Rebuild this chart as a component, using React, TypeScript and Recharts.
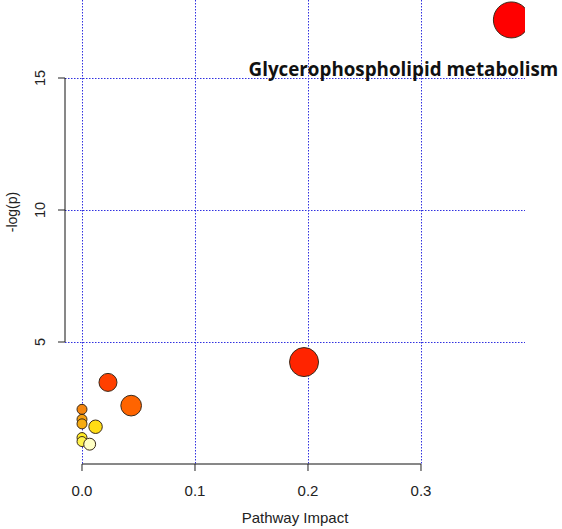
import {
  CartesianGrid,
  LabelList,
  ReferenceLine,
  Scatter,
  ScatterChart,
  XAxis,
  YAxis,
  ZAxis,
  Cell,
} from "recharts";

// pathway impact (x) and -log(p) (y)
const pathways = [
  "Glycerophospholipid metabolism",
  "", "", "", "", "", "", "", "", "", "",
];
const impact = [0.38, 0.1965, 0.023, 0.0435, 0, 0, 0, 0.012, 0, 0, 0.0068];
const logP = [17.2, 4.24, 3.47, 2.59, 2.45, 2.07, 1.9, 1.79, 1.38, 1.23, 1.13];
// relative node size
const nodeSize = [1, 0.65, 0.25, 0.33, 0.077, 0.077, 0.077, 0.14, 0.077, 0.077, 0.11];
const nodeColors = [
  "#ff0000", "#ff2400", "#ff4000", "#ff6400", "#f5860f", "#f5a010",
  "#f5ab12", "#ffdc14", "#ffec24", "#fff24a", "#ffffc4",
];

const xTicks = [0, 0.1, 0.2, 0.3];
const yTicks = [5, 10, 15];

const data = impact.map((x, i) => ({
  name: pathways[i],
  x,
  y: logP[i],
  z: nodeSize[i],
}));

const X_DOMAIN: [number, number] = [-0.01504, 0.39204];
const Y_DOMAIN: [number, number] = [0.379, 17.955];
const FONT = "'Liberation Sans', Arial, sans-serif";

// grid only at the tick values (no frame round the plot)
const gridX = ({ offset }: any) =>
  xTicks.map((t) =>
    Math.round(offset.left + ((t - X_DOMAIN[0]) / (X_DOMAIN[1] - X_DOMAIN[0])) * offset.width) + 0.5
  );
const gridY = ({ offset }: any) =>
  yTicks.map((t) =>
    Math.round(offset.top + ((Y_DOMAIN[1] - t) / (Y_DOMAIN[1] - Y_DOMAIN[0])) * offset.height) + 0.5
  );

const YTick = (p: any) => (
  <text
    x={p.x}
    y={p.y}
    transform={`rotate(-90 ${p.x} ${p.y})`}
    textAnchor="middle"
    fontSize={14.5}
    fontFamily={FONT}
    fill="#222"
  >
    {p.payload.value}
  </text>
);

const PathwayLabel = (p: any) => {
  if (!p.value) return null;
  return (
    <text
      x={p.x + p.width / 2 - 108}
      y={p.y + p.height / 2 + 56}
      textAnchor="middle"
      fontSize={18.8}
      fontWeight={700}
      fontFamily="'Open Sans', Lato, sans-serif"
      fill="#111"
    >
      {p.value}
    </text>
  );
};

export default function App() {
  return (
    <div style={{ position: "absolute", left: 0, top: 0, background: "#fff" }}>
      <ScatterChart
        width={562}
        height={529}
        margin={{ top: 0, right: 37, left: 0, bottom: 0 }}
      >
        <CartesianGrid
          stroke="#3030e0"
          strokeDasharray="1.5 1.5"
          verticalCoordinatesGenerator={gridX}
          horizontalCoordinatesGenerator={gridY}
        />
        <XAxis
          type="number"
          dataKey="x"
          domain={X_DOMAIN}
          allowDataOverflow
          ticks={xTicks}
          tickFormatter={(v: number) => v.toFixed(1)}
          height={65}
          axisLine={false}
          tickLine={{ stroke: "#222" }}
          tickSize={7}
          tickMargin={14}
          tick={{ fontSize: 15, fontFamily: FONT, fill: "#222" }}
          label={{
            value: "Pathway Impact",
            position: "insideBottom",
            offset: 6,
            fontSize: 15,
            fontFamily: FONT,
            fill: "#222",
          }}
        />
        <YAxis
          type="number"
          dataKey="y"
          domain={Y_DOMAIN}
          allowDataOverflow
          ticks={yTicks}
          width={65}
          axisLine={false}
          tickLine={{ stroke: "#222" }}
          tickSize={7}
          tickMargin={13}
          tick={YTick}
          label={() => (
            <text
              x={17}
              y={212}
              transform="rotate(-90 17 212)"
              textAnchor="middle"
              fontSize={14}
              fontFamily={FONT}
              fill="#222"
            >
              -log(p)
            </text>
          )}
        />
        <ZAxis type="number" dataKey="z" domain={[0, 1]} range={[0, 1018]} />
        <ReferenceLine
          segment={[
            { x: 0, y: Y_DOMAIN[0] },
            { x: 0.3, y: Y_DOMAIN[0] },
          ]}
          stroke="#111"
          ifOverflow="visible"
        />
        <ReferenceLine
          segment={[
            { x: X_DOMAIN[0], y: 5 },
            { x: X_DOMAIN[0], y: 15 },
          ]}
          stroke="#111"
          ifOverflow="visible"
        />
        <Scatter
          data={data}
          shape="circle"
          stroke="#3a2a1a"
          strokeWidth={1}
          isAnimationActive={false}
        >
          {data.map((d, i) => (
            <Cell key={i} fill={nodeColors[i]} />
          ))}
          <LabelList dataKey="name" content={PathwayLabel} />
        </Scatter>
      </ScatterChart>
    </div>
  );
}
